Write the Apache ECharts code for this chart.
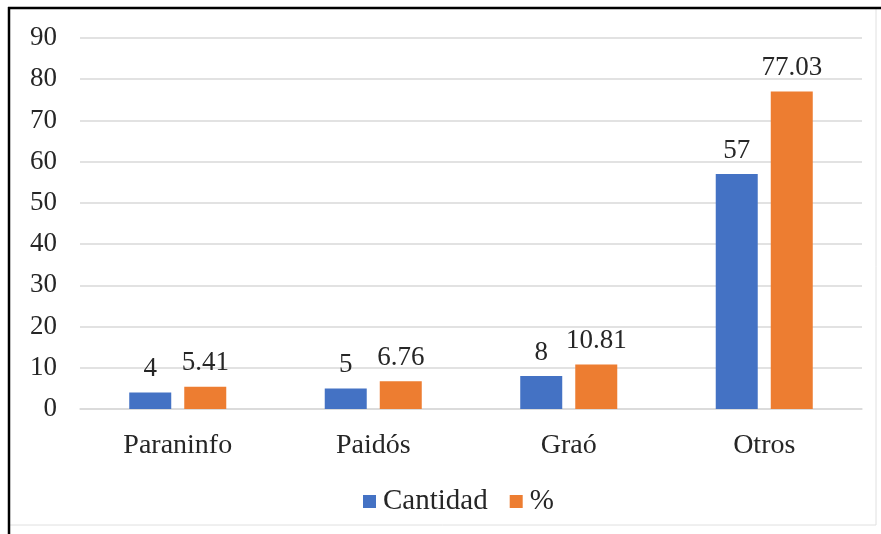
<!DOCTYPE html>
<html>
<head>
<meta charset="utf-8">
<script src="https://cdn.jsdelivr.net/npm/echarts@6/dist/echarts.min.js"></script>
<style>
html,body{margin:0;padding:0;background:#fff;}
#c{width:881px;height:534px;}
</style>
</head>
<body>
<div id="c"></div>
<script>
const categories = ['Paraninfo', 'Paidós', 'Graó', 'Otros'];
const cantidad = [4, 5, 8, 57];
const porcentaje = [5.41, 6.76, 10.81, 77.03];
const yTicks = [0, 10, 20, 30, 40, 50, 60, 70, 80, 90];

const FONT = '"Liberation Serif", "Times New Roman", serif';
const chart = echarts.init(document.getElementById('c'), null, {renderer: 'canvas'});
chart.setOption({
  backgroundColor: '#fff',
  animation: false,
  textStyle: {fontFamily: FONT},
  grid: {left: 80, right: 19, top: 38, bottom: 125, containLabel: false},
  legend: {
    data: ['Cantidad', '%'],
    left: 358, top: 482,
    icon: 'rect', itemWidth: 13, itemHeight: 13, itemGap: 22,
    textStyle: {fontFamily: FONT, fontSize: 29, color: '#262626', padding: [0, 0, 0, 2]}
  },
  xAxis: {
    type: 'category', data: categories,
    axisLine: {lineStyle: {color: '#d9d9d9', width: 1.5}},
    axisTick: {show: false},
    axisLabel: {fontFamily: FONT, fontSize: 28, color: '#262626', margin: 23}
  },
  yAxis: {
    type: 'value', min: yTicks[0], max: yTicks[yTicks.length - 1], interval: 10,
    axisLine: {show: false}, axisTick: {show: false},
    axisLabel: {fontFamily: FONT, fontSize: 27, color: '#262626', margin: 23},
    splitLine: {lineStyle: {color: '#d9d9d9', width: 1.5}}
  },
  series: [
    {
      name: 'Cantidad', type: 'bar', data: cantidad,
      barWidth: 42, barGap: '31%',
      itemStyle: {color: '#4472C4'},
      label: {show: true, position: 'top', distance: 10, fontFamily: FONT, fontSize: 27, color: '#262626'}
    },
    {
      name: '%', type: 'bar', data: porcentaje,
      barWidth: 42,
      itemStyle: {color: '#ED7D31'},
      label: {show: true, position: 'top', distance: 10, fontFamily: FONT, fontSize: 27, color: '#262626'}
    }
  ],
  graphic: [
    {type: 'rect', shape: {x: 9, y: 8, width: 867, height: 517}, style: {fill: 'none', stroke: '#e0e0e0', lineWidth: 1}, silent: true},
    {type: 'line', shape: {x1: 8, y1: 8, x2: 881, y2: 8}, style: {stroke: '#000', lineWidth: 2.5}, silent: true},
    {type: 'line', shape: {x1: 9, y1: 7, x2: 9, y2: 534}, style: {stroke: '#000', lineWidth: 2.5}, silent: true}
  ]
});
</script>
</body>
</html>
